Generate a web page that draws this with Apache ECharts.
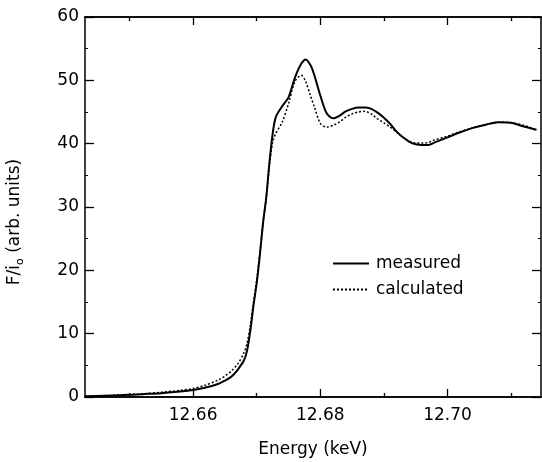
<!DOCTYPE html>
<html>
<head>
<meta charset="utf-8">
<script src="https://cdn.jsdelivr.net/npm/echarts@6/dist/echarts.min.js"></script>
<style>html,body{margin:0;padding:0;background:#fff}#c{width:542px;height:462px}</style>
</head>
<body>
<div id="c"></div>
<script>
var energy = [12.643,12.646,12.649,12.652,12.655,12.658,12.660,12.662,12.664,12.665,12.666,12.667,12.668,12.6685,12.669,12.6695,12.670,12.6705,12.671,12.6715,12.672,12.6725,12.673,12.674,12.675,12.676,12.677,12.6777,12.6785,12.679,12.680,12.681,12.682,12.683,12.684,12.685,12.686,12.687,12.688,12.689,12.690,12.691,12.692,12.693,12.694,12.695,12.696,12.697,12.698,12.700,12.702,12.704,12.706,12.708,12.710,12.712,12.714];
var measured = [0.1,0.2,0.3,0.45,0.6,0.85,1.1,1.5,2.1,2.6,3.2,4.3,5.8,7.4,10.5,14.5,18,22.5,27.5,31.5,37,41.5,44.2,45.9,47.3,50.4,52.6,53.3,52.3,51.0,47.6,44.8,44.0,44.4,45.1,45.5,45.7,45.7,45.5,44.9,44.1,43.1,41.9,41.0,40.3,39.9,39.8,39.8,40.2,41.0,41.8,42.5,43.0,43.4,43.3,42.7,42.2];
var calculated = [0.1,0.2,0.35,0.5,0.75,1.05,1.35,1.9,2.7,3.3,4.1,5.2,7.0,8.6,11.3,15,18.5,22.8,27.5,31.5,36.5,40.2,41.6,43.4,46.3,49.8,50.8,49.8,47.4,46.0,43.2,42.6,42.9,43.4,44.2,44.7,45.0,45.1,44.7,43.9,43.3,42.6,41.8,41.0,40.4,40.1,40.1,40.2,40.6,41.2,41.9,42.5,43.0,43.4,43.3,42.9,42.1];
var majorX = [12.66, 12.68, 12.70];
var minorX = [12.65, 12.67, 12.69, 12.71];
var xTitle = 'Energy (keV)';
var yTitle = 'F/i{sub|o} (arb. units)';
var seriesNames = ['measured', 'calculated'];

var FONT = 'DejaVu Sans';
var XMIN = 12.643, XMAX = 12.7147;
function pair(xs, ys){ return xs.map(function(x,i){return [x, ys[i]];}); }
function xAx(pos, vals, len, labels, name){
  return {
    type:'value', position:pos, min:XMIN, max:XMAX,
    axisLine:{show:true, lineStyle:{color:'#000', width:1.5}},
    axisTick:{show:true, inside:true, length:len, customValues:vals, lineStyle:{color:'#000', width:1.3}},
    axisLabel:{show:labels, customValues:vals, color:'#000', fontFamily:FONT, fontSize:17, margin:10,
      formatter:function(v){return v.toFixed(2);}},
    splitLine:{show:false},
    name: name || '', nameLocation:'middle', nameGap:44,
    nameTextStyle:{color:'#000', fontFamily:FONT, fontSize:17}
  };
}
var chart = echarts.init(document.getElementById('c'), null, {renderer:'canvas'});
chart.setOption({
  animation:false,
  backgroundColor:'#fff',
  grid:{left:85, right:1, top:17, bottom:65, containLabel:false, outerBoundsMode:'none'},
  xAxis:[
    xAx('bottom', majorX, 8, true, xTitle),
    xAx('bottom', minorX, 4, false),
    xAx('top', majorX, 8, false),
    xAx('top', minorX, 4, false)
  ],
  yAxis:[
    {type:'value', position:'left', min:0, max:60, interval:10,
     axisLine:{show:true, lineStyle:{color:'#000', width:1.5}},
     axisTick:{show:true, inside:true, length:9, lineStyle:{color:'#000', width:1.3}},
     minorTick:{show:true, splitNumber:2, length:3, lineStyle:{color:'#000', width:1}},
     axisLabel:{color:'#000', fontFamily:FONT, fontSize:17, margin:6},
     splitLine:{show:false},
     name:yTitle, nameLocation:'middle', nameGap:59, nameRotate:90,
     nameTextStyle:{color:'#000', fontFamily:FONT, fontSize:17, lineHeight:22, padding:[0,30,0,0],
       rich:{sub:{fontFamily:FONT, fontSize:11, lineHeight:22, verticalAlign:'bottom', color:'#000'}}}
    },
    {type:'value', position:'right', min:0, max:60, interval:10,
     axisLine:{show:true, lineStyle:{color:'#000', width:1.5}},
     axisTick:{show:true, inside:true, length:9, lineStyle:{color:'#000', width:1.3}},
     minorTick:{show:true, splitNumber:2, length:3, lineStyle:{color:'#000', width:1}},
     axisLabel:{show:false}, splitLine:{show:false}}
  ],
  legend:{
    orient:'vertical', left:327, top:250, itemWidth:36, itemHeight:14, itemGap:9,
    itemStyle:{opacity:0},
    textStyle:{color:'#000', fontFamily:FONT, fontSize:17, padding:[0,0,0,2]},
    data:seriesNames
  },
  series:[
    {name:seriesNames[0], type:'line', xAxisIndex:0, yAxisIndex:0, data:pair(energy, measured),
     symbol:'none', smooth:0.3, lineStyle:{color:'#000', width:2, type:'solid'}, itemStyle:{color:'#000'}, z:3},
    {name:seriesNames[1], type:'line', xAxisIndex:0, yAxisIndex:0, data:pair(energy, calculated),
     symbol:'none', smooth:0.3, lineStyle:{color:'#000', width:1.5, type:[2,2]}, itemStyle:{color:'#000'}, z:2}
  ]
});
</script>
</body>
</html>
